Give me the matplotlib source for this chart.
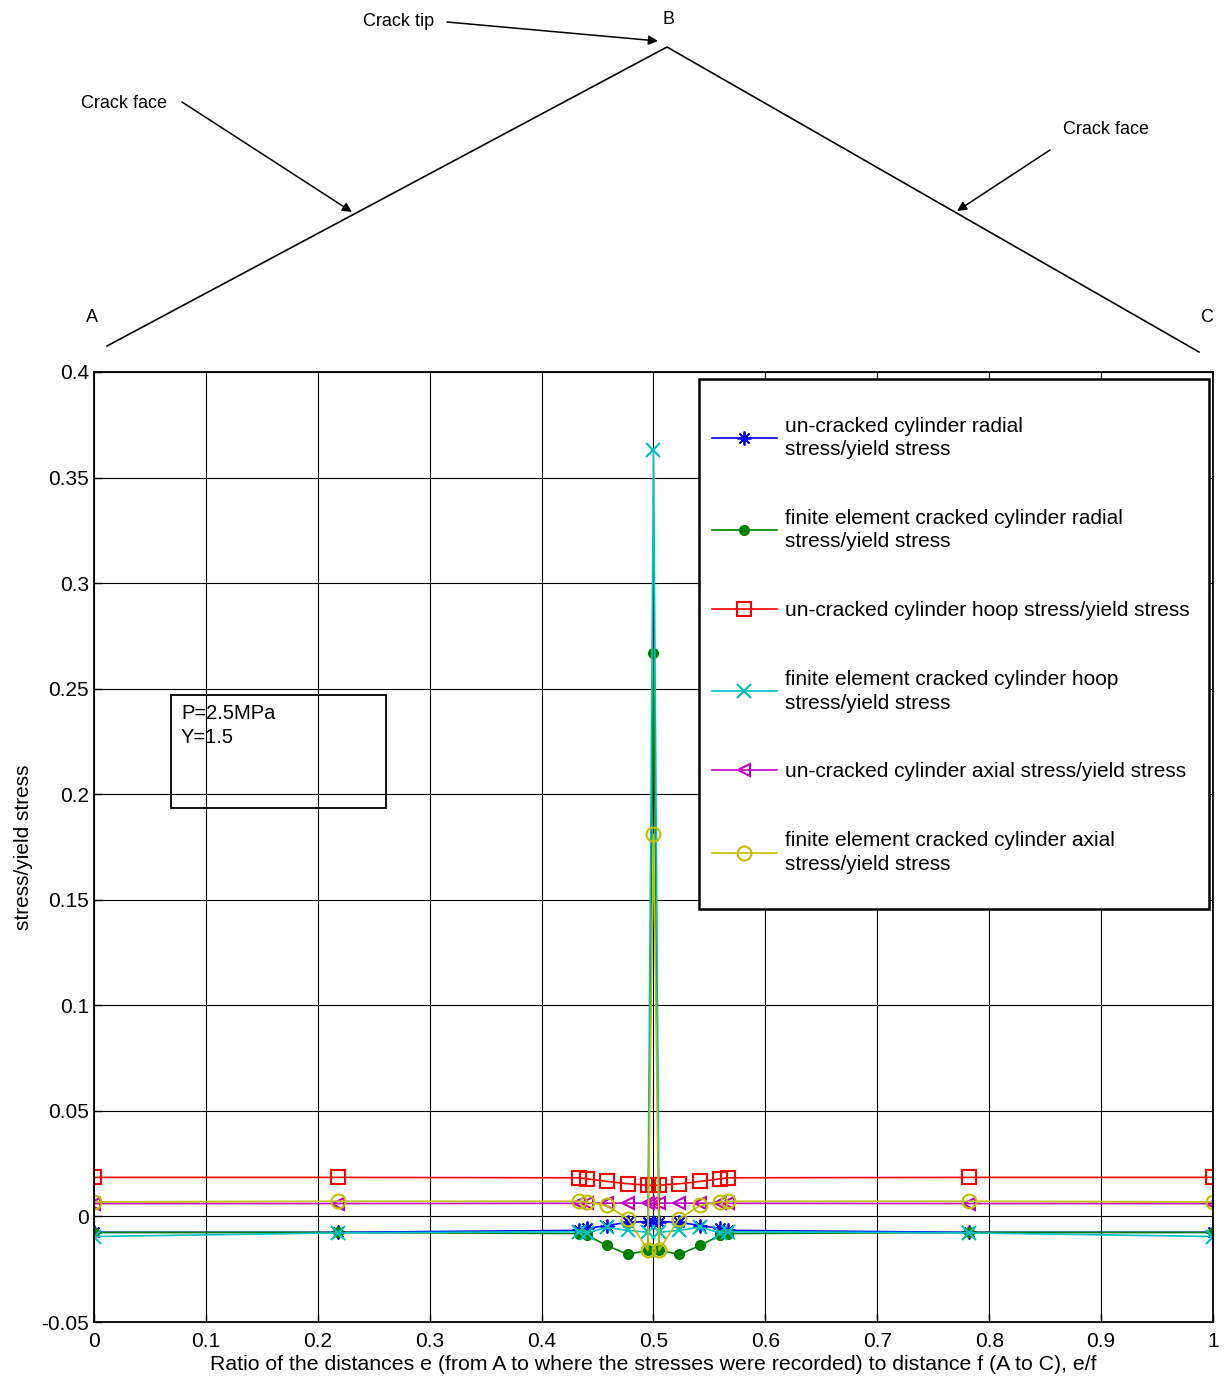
import matplotlib
matplotlib.use("Agg")
import matplotlib.pyplot as plt
from matplotlib.patches import Rectangle

plt.rcParams['font.family'] = ['Liberation Sans', 'DejaVu Sans']

# sampling points along A-B-C, as fraction e/f
ratio = [0, 0.218, 0.433, 0.441, 0.458, 0.477, 0.495, 0.5, 0.505,
         0.523, 0.542, 0.559, 0.567, 0.782, 1]

# stress / yield stress for each case
uc_radial = [-0.0075, -0.0075, -0.0066, -0.0057, -0.0043, -0.0028, -0.0024, -0.0024,
             -0.0024, -0.0028, -0.0043, -0.0057, -0.0066, -0.0075, -0.0075]
fe_radial = [-0.0076, -0.0076, -0.0081, -0.0090, -0.0137, -0.0180, -0.0160, 0.2667,
             -0.0160, -0.0180, -0.0137, -0.0090, -0.0081, -0.0076, -0.0076]
uc_hoop = [0.0185, 0.0185, 0.0183, 0.0178, 0.0166, 0.0155, 0.0148, 0.0147,
           0.0148, 0.0155, 0.0166, 0.0178, 0.0183, 0.0185, 0.0185]
fe_hoop = [-0.0095, -0.0078, -0.0072, -0.0078, -0.0052, -0.0066, -0.0075, 0.3629,
           -0.0075, -0.0066, -0.0050, -0.0078, -0.0072, -0.0078, -0.0095]
uc_axial = [0.0061, 0.0061, 0.0062, 0.0062, 0.0063, 0.0063, 0.0063, 0.0063,
            0.0063, 0.0063, 0.0063, 0.0062, 0.0062, 0.0061, 0.0061]
fe_axial = [0.0069, 0.0072, 0.0072, 0.0068, 0.0052, -0.0010, -0.0160, 0.1810,
            -0.0160, -0.0010, 0.0052, 0.0068, 0.0072, 0.0072, 0.0069]

labels = ["un-cracked cylinder radial\nstress/yield stress",
          "finite element cracked cylinder radial\nstress/yield stress",
          "un-cracked cylinder hoop stress/yield stress",
          "finite element cracked cylinder hoop\nstress/yield stress",
          "un-cracked cylinder axial stress/yield stress",
          "finite element cracked cylinder axial\nstress/yield stress"]

x_ticks = [0, 0.1, 0.2, 0.3, 0.4, 0.5, 0.6, 0.7, 0.8, 0.9, 1]
x_ticklabels = ["0", "0.1", "0.2", "0.3", "0.4", "0.5", "0.6", "0.7", "0.8", "0.9", "1"]
y_ticks = [-0.05, 0, 0.05, 0.1, 0.15, 0.2, 0.25, 0.3, 0.35, 0.4]
y_ticklabels = ["-0.05", "0", "0.05", "0.1", "0.15", "0.2", "0.25", "0.3", "0.35", "0.4"]

W, H = 1229, 1378
fig = plt.figure(figsize=(W / 100, H / 100), dpi=100)
ax = fig.add_axes([94 / W, 1 - 1322 / H, (1213 - 94) / W, (1322 - 372) / H])

asterisk = (8, 2, 0)
ax.plot(ratio, uc_radial, color=(0, 0, 1), marker=asterisk, ms=10, mew=1.3, lw=1.2, label=labels[0])
ax.plot(ratio, fe_radial, color=(0, 0.5, 0), marker='o', ms=7, lw=1.2, label=labels[1])
ax.plot(ratio, uc_hoop, color=(1, 0, 0), marker='s', ms=10, mfc='none', mew=1.5, lw=1.2, label=labels[2])
ax.plot(ratio, fe_hoop, color=(0, 0.75, 0.75), marker='x', ms=10, mew=1.5, lw=1.2, label=labels[3])
ax.plot(ratio, uc_axial, color=(0.75, 0, 0.75), marker='<', ms=9, mfc='none', mew=1.5, lw=1.2, label=labels[4])
ax.plot(ratio, fe_axial, color=(0.75, 0.75, 0), marker='o', ms=10, mfc='none', mew=1.5, lw=1.2, label=labels[5])

ax.set_xlim(0, 1)
ax.set_ylim(-0.05, 0.4)
ax.set_xticks(x_ticks)
ax.set_xticklabels(x_ticklabels, fontsize=15)
ax.set_yticks(y_ticks)
ax.set_yticklabels(y_ticklabels, fontsize=15)
ax.tick_params(axis='x', pad=7)
ax.tick_params(direction='in', length=6, width=1)
ax.grid(True, color='black', lw=0.8)
for sp in ax.spines.values():
    sp.set_linewidth(1.3)
ax.set_xlabel("Ratio of the distances e (from A to where the stresses were recorded) to distance f (A to C), e/f",
              fontsize=15.3, labelpad=3)
ax.set_ylabel("stress/yield stress", fontsize=15, labelpad=6)

# legend with a separately drawn frame
ax.add_patch(Rectangle((0.5407, 0.4347), 0.4557, 0.558, transform=ax.transAxes,
                       fill=True, fc='white', ec='black', lw=1.8, zorder=5))
leg = ax.legend(loc='upper left', bbox_to_anchor=(0.5523, 0.953), frameon=False,
                fontsize=15, handlelength=3.1, handletextpad=0.4, labelspacing=2.39,
                borderpad=0, borderaxespad=0)
for t in leg.get_texts():
    t.set_linespacing(1.3)
leg.set_zorder(6)

# parameter box
ax.add_patch(Rectangle((0.0688, 0.1937), 0.1923, 0.0531, fill=False, ec='black', lw=1.3, zorder=4))
ax.text(0.0777, 0.2425, "P=2.5MPa\nY=1.5", fontsize=14.5, va='top', ha='left',
        linespacing=1.3, zorder=4)

# crack geometry sketch above the plot, in pixel coordinates
top = fig.add_axes([0, 0, 1, 1], zorder=-1)
top.set_xlim(0, W)
top.set_ylim(H, 0)
top.axis('off')
top.plot([107, 667, 1199], [346, 47, 352], color='black', lw=1.2)
top.text(92, 318, "A", fontsize=13, ha='center', va='center')
top.text(669, 19, "B", fontsize=13, ha='center', va='center')
top.text(1207, 318, "C", fontsize=13, ha='center', va='center')
arrow = dict(arrowstyle='-|>', color='black', lw=1.1, mutation_scale=14, shrinkA=0, shrinkB=0)
top.text(399, 21, "Crack tip", fontsize=13, ha='center', va='center')
top.annotate("", xy=(658, 41), xytext=(447, 22), arrowprops=arrow)
top.text(124, 103, "Crack face", fontsize=13, ha='center', va='center')
top.annotate("", xy=(352, 212), xytext=(182, 102), arrowprops=arrow)
top.text(1106, 130, "Crack face", fontsize=13, ha='center', va='center')
top.annotate("", xy=(957, 211), xytext=(1050, 150), arrowprops=arrow)

fig.savefig("out.png", dpi=100)
